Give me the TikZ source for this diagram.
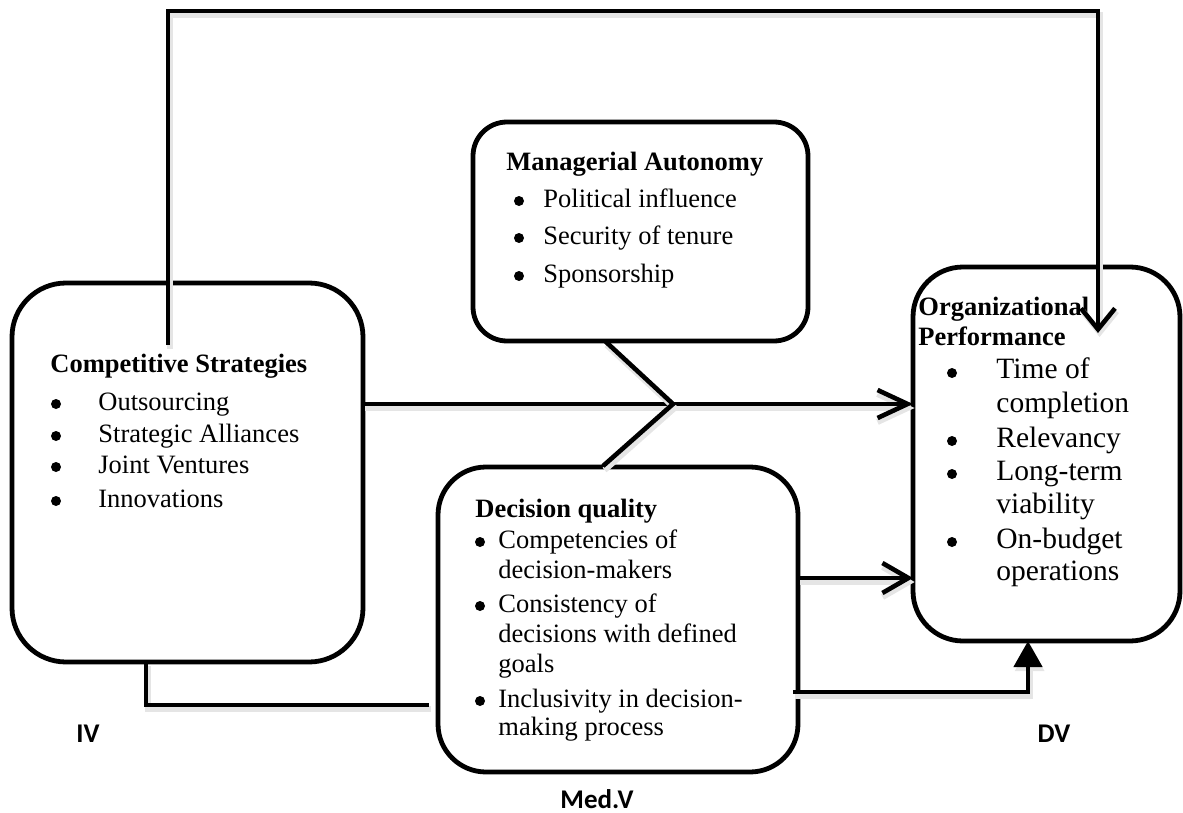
\documentclass[tikz,border=0pt]{standalone}
\usepackage{fontspec}
\setmainfont{Liberation Serif}
\newfontfamily\lblfont{Carlito}
\usetikzlibrary{arrows.meta}
\tikzset{
  box/.style={draw, line width=2.4pt, rounded corners=#1, inner sep=0pt, outer sep=0pt},
  dot/.style={circle, fill, inner sep=0pt, minimum size=5pt},
  txt/.style={anchor=base west, inner sep=0pt, font=\fontsize{13.25}{16}\selectfont},
  bigtxt/.style={anchor=base west, inner sep=0pt, font=\fontsize{14.75}{17}\selectfont},
  ttl/.style={anchor=base west, inner sep=0pt, font=\fontsize{13.25}{16}\selectfont\bfseries},
  lbl/.style={anchor=base, inner sep=0pt, font=\lblfont\fontsize{13.5}{16}\selectfont\bfseries},
  link/.style={line width=2.3pt, preaction={draw=black!10, line width=3pt, transform canvas={shift={(0.8pt,-2pt)}}}},
}
\begin{document}
\begin{tikzpicture}[x=0.5pt, y=-0.5pt]
\useasboundingbox (0,0) rectangle (1183,813);
% boxes
\node[box=27pt, minimum width=175.5pt, minimum height=189.5pt] (cs) at (187.5,472.5) {};
\node[box=17pt, minimum width=167.5pt, minimum height=109.5pt] (ma) at (640.5,231.5) {};
\node[box=24pt, minimum width=180pt, minimum height=152.5pt] (dq) at (618,619.5) {};
\node[box=25pt, minimum width=133.5pt, minimum height=187pt] (op) at (1046.5,454) {};

% Competitive Strategies
\node[ttl] (cst) at (50,372) {Competitive Strategies};
\node[dot] (csb1) at (56,404) {};
\node[txt] (csi1) at (98,410) {Outsourcing};
\node[dot] (csb2) at (56,436) {};
\node[txt] (csi2) at (98,442) {Strategic Alliances};
\node[dot] (csb3) at (56,467) {};
\node[txt] (csi3) at (98,473) {Joint Ventures};
\node[dot] (csb4) at (56,501) {};
\node[txt] (csi4) at (98,507) {Innovations};

% Managerial Autonomy
\node[ttl] (mat) at (506,170) {Managerial Autonomy};
\node[dot] (mab1) at (519,201) {};
\node[txt] (mai1) at (543,207) {Political influence};
\node[dot] (mab2) at (519,238) {};
\node[txt] (mai2) at (543,244) {Security of tenure};
\node[dot] (mab3) at (519,276) {};
\node[txt] (mai3) at (543,282) {Sponsorship};

% Decision quality
\node[ttl] (dqt) at (475,517) {Decision quality};
\node[dot] (dqb1) at (480,542) {};
\node[txt] (dqi1) at (498,548) {Competencies of};
\node[txt] (dqi1b) at (498,578) {decision-makers};
\node[dot] (dqb2) at (480,606) {};
\node[txt] (dqi2) at (498,612) {Consistency of};
\node[txt] (dqi2b) at (498,642) {decisions with defined};
\node[txt] (dqi2c) at (498,672) {goals};
\node[dot] (dqb3) at (480,701) {};
\node[txt] (dqi3) at (498,707) {Inclusivity in decision-};
\node[txt] (dqi3b) at (498,735) {making process};

% Organizational Performance
\node[ttl] (opt) at (918,315) {Organizational};
\node[ttl] (opt2) at (918,345) {Performance};
\node[dot] (opb1) at (952,373) {};
\node[bigtxt] (opi1) at (996,378) {Time of};
\node[bigtxt] (opi1b) at (996,412) {completion};
\node[dot] (opb2) at (952,441) {};
\node[bigtxt] (opi2) at (996,447) {Relevancy};
\node[dot] (opb3) at (952,474) {};
\node[bigtxt] (opi3) at (996,480) {Long-term};
\node[bigtxt] (opi3b) at (996,513) {viability};
\node[dot] (opb4) at (952,542) {};
\node[bigtxt] (opi4) at (996,548) {On-budget};
\node[bigtxt] (opi4b) at (996,580) {operations};

% labels
\node[lbl] (iv) at (88,742) {IV};
\node[lbl] (dv) at (1054,742) {DV};
\node[lbl] (medv) at (597,808) {Med.V};

% connectors
\coordinate (apex) at (673,404);
\coordinate (mab) at (605,341);
\coordinate (dqt0) at (603,466);
\coordinate (cstop) at (168,345);
\coordinate (topr) at (1098,11);
\coordinate (optop) at (1098,333);
\coordinate (csbot) at (146,662);
\coordinate (dqleft) at (429,705);
\coordinate (dqmid) at (798,578);
\coordinate (dqlow) at (793,692);
\coordinate (opbot) at (1028,641);

\path[draw,link,-{Straight Barb[length=15pt,width=14pt]}] (cs.east |- apex) -- (op.west |- apex);
\path[draw,link] (mab) -- (apex) -- (dqt0);
\path[draw,link,-{Straight Barb[length=10.5pt,width=17pt]}] (cstop) |- (topr) -- (optop);
\path[draw,link] (csbot) |- (dqleft);
\path[draw,link,-{Straight Barb[length=13pt,width=15pt]}] (dqmid) -- (op.west |- dqmid);
\path[draw,link,-{Triangle[length=13pt,width=14pt]}] (dqlow) -| (opbot);
\end{tikzpicture}
\end{document}
